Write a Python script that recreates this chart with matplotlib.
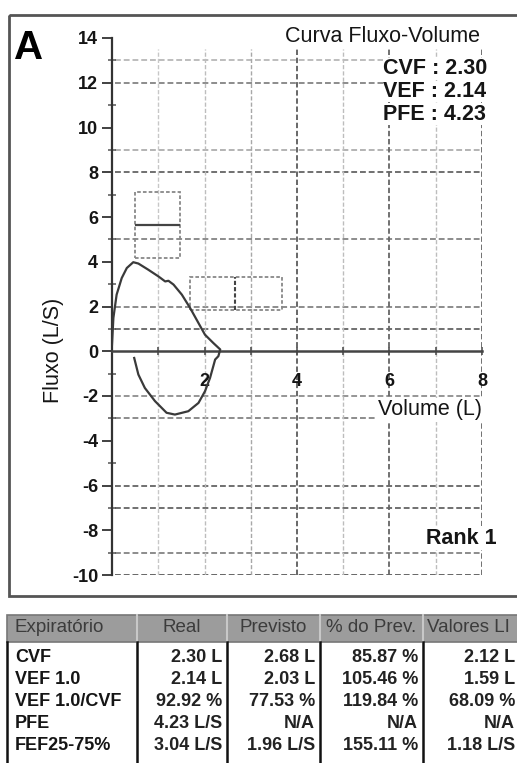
import matplotlib.pyplot as plt
import numpy as np
from matplotlib.patches import Rectangle

plt.rcParams['font.family'] = ['Liberation Sans', 'DejaVu Sans']
plt.rcParams['axes.unicode_minus'] = False

# flow-volume loop (volume L, flow L/s)
vol = [0.0, 0.03, 0.10, 0.21, 0.32, 0.46, 0.57, 0.78, 1.0, 1.15, 1.22, 1.33,
       1.51, 1.69, 1.87, 2.01, 2.19, 2.34, 2.30, 2.23, 2.19, 2.12, 2.01, 1.87,
       1.65, 1.36, 1.18, 0.93, 0.71, 0.57, 0.48]
flow = [0.3, 1.49, 2.53, 3.27, 3.72, 3.98, 3.92, 3.65, 3.35, 3.12, 3.15, 2.98,
        2.53, 1.93, 1.26, 0.74, 0.37, 0.08, -0.22, -0.37, -0.67, -1.19, -1.79,
        -2.31, -2.68, -2.83, -2.75, -2.23, -1.64, -1.04, -0.30]

# predicted boxes
box_pfe = dict(x=(0.5, 1.47), y=(4.17, 7.1), mid=5.65)
box_fev = dict(x=(1.69, 3.67), y=(1.86, 3.33), mid=2.66)

# printed grid (value, darkness)
hgrid = [13, 12, 9, 8, 5, 2, 1, -2, -3, -6, -7, -9, -10]
hgrid_dark = [0.35, 0.6, 0.4, 0.75, 0.6, 0.6, 0.75, 0.55, 0.6, 0.75, 0.75, 0.6, 0.8]
vgrid = [1, 2, 3, 4, 5, 6, 7, 8]
vgrid_dark = [0.3, 0.35, 0.45, 0.85, 0.35, 0.8, 0.35, 0.8]

summary = [('CVF', '2.30'), ('VEF', '2.14'), ('PFE', '4.23')]

col_names = ['Expiratório', 'Real', 'Previsto', '% do Prev.', 'Valores LI']
row_names = ['CVF', 'VEF 1.0', 'VEF 1.0/CVF', 'PFE', 'FEF25-75%']
real = ['2.30 L', '2.14 L', '92.92 %', '4.23 L/S', '3.04 L/S']
previsto = ['2.68 L', '2.03 L', '77.53 %', 'N/A', '1.96 L/S']
pct_prev = ['85.87 %', '105.46 %', '119.84 %', 'N/A', '155.11 %']
valores_li = ['2.12 L', '1.59 L', '68.09 %', 'N/A', '1.18 L/S']

W, H = 517, 763
fig = plt.figure(figsize=(W / 100, H / 100), dpi=100)


def px_axes(z):
    a = fig.add_axes([0, 0, 1, 1], zorder=z)
    a.set_xlim(0, W)
    a.set_ylim(H, 0)
    a.axis('off')
    a.patch.set_alpha(0)
    return a


# background layer in pixel coordinates: frame, table
bg = px_axes(0)
# top layer for labels that mask the grid
top = px_axes(2)

bg.add_patch(Rectangle((9, 15), 540, 581, fill=False, ec='#555555', lw=2, clip_on=False))

ink = '#151515'
top.text(14, 48, 'A', fontsize=29, fontweight='bold', color='black', va='center', ha='left')
top.text(480, 36, 'Curva Fluxo-Volume', fontsize=15.5, color=ink, va='center', ha='right',
         bbox=dict(fc='white', ec='none', pad=0.5))
for i, (k, v) in enumerate(summary):
    top.text(383, 69 + 22.5 * i, f'{k} : {v}', fontsize=15.5, fontweight='bold', color=ink,
             va='center', ha='left', bbox=dict(fc='white', ec='none', pad=0.3))
top.text(53, 350, 'Fluxo (L/S)', fontsize=15.5, color=ink, rotation=90, va='center', ha='center')
top.text(482, 410, 'Volume (L)', fontsize=15.5, color=ink, va='center', ha='right',
         bbox=dict(fc='white', ec='none', pad=1))
top.text(497, 538, 'Rank 1', fontsize=15.5, fontweight='bold', color=ink, va='center', ha='right',
         bbox=dict(fc='white', ec='none', pad=1))

# table
edges = [7, 137, 227, 320, 423, 540]
head_top, head_bot = 615, 642
bg.add_patch(Rectangle((edges[0], head_top), edges[-1] - edges[0], head_bot - head_top,
                       fc='#9c9c9c', ec='#777777', lw=1.2, clip_on=False))
for x in edges[1:-1]:
    bg.plot([x, x], [head_top, head_bot], color='#c8c8c8', lw=1.5)
    bg.plot([x, x], [head_bot, H], color='#111111', lw=1.8)
bg.plot([edges[0], edges[0]], [head_bot, H], color='#111111', lw=1.8)
bg.text(15, 628, col_names[0], fontsize=13.5, color='#3c3c3c', va='center', ha='left')
for j, name in enumerate(col_names[1:4], start=1):
    bg.text((edges[j] + edges[j + 1]) / 2, 628, name, fontsize=13.5, color='#3c3c3c',
            va='center', ha='center')
bg.text(427, 628, col_names[4], fontsize=13.5, color='#3c3c3c', va='center', ha='left')

row_y = [657, 679, 702, 724, 746]
cols = [real, previsto, pct_prev, valores_li]
for i, name in enumerate(row_names):
    bg.text(15, row_y[i], name, fontsize=13, fontweight='bold', color=ink, va='center', ha='left')
    for j, col in enumerate(cols):
        bg.text(edges[j + 2] - 5 if j < 3 else 515, row_y[i], col[i], fontsize=13,
                fontweight='bold', color='#222222', va='center', ha='right')

# main chart
ax = fig.add_axes([112 / W, (H - 575) / H, 370 / W, 537 / H], zorder=1)
ax.set_facecolor('none')
ax.set_xlim(0, 8)
ax.set_ylim(-10, 14)

for y, d in zip(hgrid, hgrid_dark):
    c = str(round(1 - d * 0.75, 2))
    ax.hlines(y, 0.06, 8, colors=c, lw=1.4, linestyles=(0, (3, 1.5)), zorder=1)
for x, d in zip(vgrid, vgrid_dark):
    c = str(round(1 - d * 0.75, 2))
    ax.vlines(x, -10, 13.5, colors=c, lw=1.3 if d > 0.7 else 1.0,
              linestyles=(0, (3, 1.5)), zorder=1)

for b in (box_pfe, box_fev):
    x0, x1 = b['x']
    y0, y1 = b['y']
    ax.add_patch(Rectangle((x0, y0), x1 - x0, y1 - y0, fill=False, ec='#888888',
                           lw=1.3, ls=(0, (2, 1.2)), zorder=2))
ax.hlines(box_pfe['mid'], *box_pfe['x'], colors='#444444', lw=1.6, zorder=2)
ax.vlines(box_fev['mid'], *box_fev['y'], colors='#444444', lw=1.5, linestyles=(0, (2, 1)), zorder=2)

ax.plot(vol, flow, color='#3a3a3a', lw=1.6, zorder=3)

ax.spines['top'].set_visible(False)
ax.spines['right'].set_visible(False)
ax.spines['left'].set_color('#333333')
ax.spines['left'].set_linewidth(1.6)
ax.spines['bottom'].set_position(('data', 0))
ax.spines['bottom'].set_color('#444444')
ax.spines['bottom'].set_linewidth(1.8)

ax.set_yticks(np.arange(-10, 15, 2))
ax.set_yticks(np.arange(-9, 14, 2), minor=True)
ax.tick_params(axis='y', which='major', direction='out', length=7, width=1.3, color='#333333',
               labelsize=13, pad=3, labelcolor=ink)
ax.tick_params(axis='y', which='minor', direction='inout', length=6, width=1.1, color='#555555')
for lab in ax.get_yticklabels():
    lab.set_fontweight('bold')

ax.set_xticks([2, 4, 6, 8])
ax.set_xticks([1, 3, 5, 7], minor=True)
ax.tick_params(axis='x', which='both', direction='inout', length=6, width=1.2, color='#555555',
               labelsize=13, pad=13, labelcolor=ink)
for lab in ax.get_xticklabels():
    lab.set_fontweight('bold')

fig.savefig('out.png', dpi=100)
